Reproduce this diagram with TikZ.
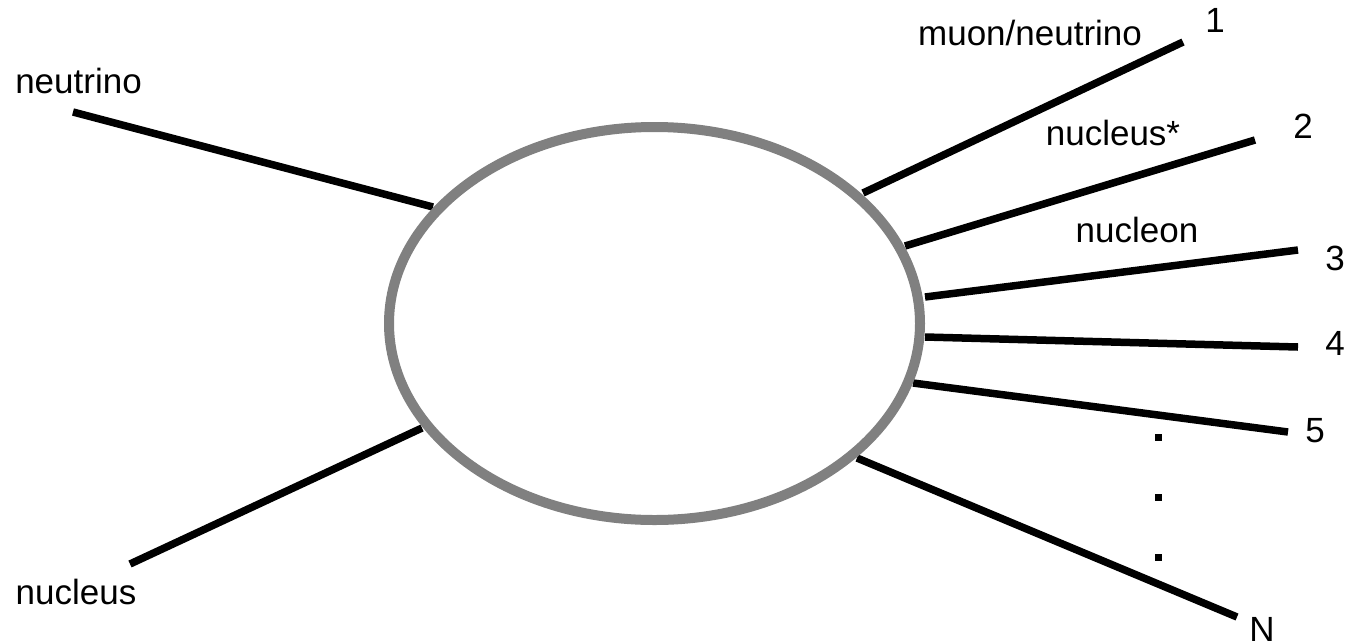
\documentclass[tikz,border=0pt]{standalone}
\usepackage{fontspec}
\setmainfont{Liberation Sans}
\usetikzlibrary{shapes.geometric}
\definecolor{ringgray}{HTML}{808080}
\begin{document}
\begin{tikzpicture}[x=1pt,y=-1pt,
  leg/.style={line width=7.5pt,black},
  lbl/.style={inner sep=0pt,anchor=base,font=\fontsize{35}{40}\selectfont},
  dotbox/.style={rectangle,fill=black,minimum size=7pt,inner sep=0pt},
  blob/.style={ellipse,draw=ringgray,line width=10pt,fill=white,minimum width=531pt,minimum height=393pt,inner sep=0pt}]
\useasboundingbox (0,0) rectangle (1348,643);
% endpoints
\coordinate (inA) at (73,112);   \coordinate (inAe) at (433,207);
\coordinate (inB) at (130,564);  \coordinate (inBe) at (422,428);
\coordinate (o1s) at (863,193);  \coordinate (o1) at (1183,42);
\coordinate (o2s) at (905,246);  \coordinate (o2) at (1255,140);
\coordinate (o3s) at (925,297);  \coordinate (o3) at (1298,250);
\coordinate (o4s) at (925,337);  \coordinate (o4) at (1298,347);
\coordinate (o5s) at (913,383);  \coordinate (o5) at (1288,432);
\coordinate (oNs) at (857,458);  \coordinate (oN) at (1237,617);
\draw[leg] (inA) -- (inAe);
\draw[leg] (inB) -- (inBe);
\draw[leg] (o1s) -- (o1);
\draw[leg] (o2s) -- (o2);
\draw[leg] (o3s) -- (o3);
\draw[leg] (o4s) -- (o4);
\draw[leg] (o5s) -- (o5);
\draw[leg] (oNs) -- (oN);
\node[blob] (core) at (654.5,323.5) {};
% labels
\node[lbl] (tneu) at (78.5,93) {neutrino};
\node[lbl] (tnuc) at (76,604) {nucleus};
\node[lbl] (tmu) at (1030,45) {muon/neutrino};
\node[lbl] (t1) at (1215,32) {1};
\node[lbl] (tnucs) at (1113,145) {nucleus*};
\node[lbl] (t2) at (1303,138) {2};
\node[lbl] (tnucl) at (1137,242) {nucleon};
\node[lbl] (t3) at (1335,270) {3};
\node[lbl] (t4) at (1335,355) {4};
\node[lbl] (t5) at (1315,442) {5};
\node[lbl] (tN) at (1262,641) {N};
% dots
\node[dotbox] (d1) at (1158,437) {};
\node[dotbox] (d2) at (1158,497) {};
\node[dotbox] (d3) at (1158,557) {};
\end{tikzpicture}
\end{document}
